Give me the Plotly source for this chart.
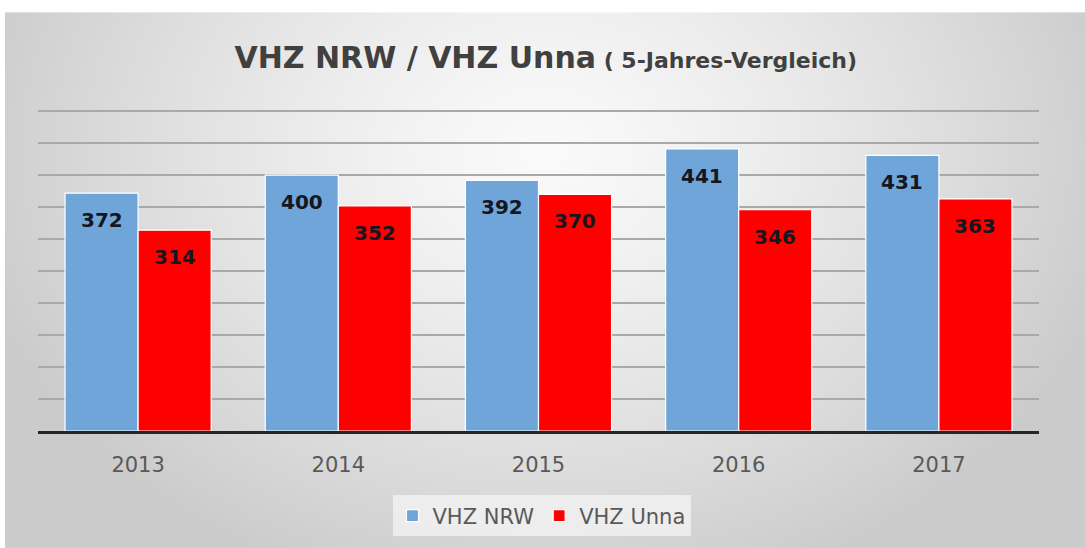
import base64
import struct
import zlib
import numpy as np
import plotly.graph_objects as go

years = ["2013", "2014", "2015", "2016", "2017"]
vhz_nrw = [372, 400, 392, 441, 431]
vhz_unna = [314, 352, 370, 346, 363]
series_names = ["VHZ NRW", "VHZ Unna"]
series_colors = ["#6fa5d9", "#ff0000"]

W, H = 1085, 548
FONT = "DejaVu Sans"


def png_data_uri(arr):
    h, w, _ = arr.shape
    raw = b"".join(b"\x00" + arr[i].tobytes() for i in range(h))

    def chunk(tag, data):
        c = struct.pack(">I", len(data)) + tag + data
        return c + struct.pack(">I", zlib.crc32(tag + data) & 0xFFFFFFFF)

    png = b"\x89PNG\r\n\x1a\n"
    png += chunk(b"IHDR", struct.pack(">IIBBBBB", w, h, 8, 2, 0, 0, 0))
    png += chunk(b"IDAT", zlib.compress(raw, 9))
    png += chunk(b"IEND", b"")
    return "data:image/png;base64," + base64.b64encode(png).decode()


# Decorative radial gray background
bw, bh = 270, 134
px = np.linspace(5, W, bw)
py = np.linspace(12, H, bh)
XX, YY = np.meshgrid(px, py)
d = np.sqrt(((XX - 545) / 600.0) ** 2 + ((YY - 150) / 470.0) ** 2)
t = np.clip(d, 0, 1) ** 1.3
g = (250 - t * (250 - 203)).astype(np.uint8)
bg = np.dstack([g, g, g])
bg_uri = png_data_uri(bg)

fig = go.Figure()
for name, vals, col in zip(series_names, [vhz_nrw, vhz_unna], series_colors):
    fig.add_trace(go.Bar(
        x=years, y=vals, name=name,
        marker=dict(color=col, line=dict(color="#ffffff", width=1.2)),
        hoverinfo="x+y"))

# Data labels inside the bars, near the top (x given as category index)
annotations = []
for vals, xs in [(vhz_nrw, -36.5), (vhz_unna, 36.5)]:
    for i, v in enumerate(vals):
        annotations.append(dict(
            x=i, y=v, xref="x", yref="y", xshift=xs, yshift=-27,
            text="<b>%d</b>" % v, showarrow=False, yanchor="middle",
            font=dict(family=FONT, size=20, color="#16161f")))

YMAX = 502
PH = 320 * YMAX / 500
fig.update_layout(
    width=W, height=H,
    margin=dict(l=38, r=W - 1039, t=431 - int(round(PH)), b=H - 431, pad=0),
    paper_bgcolor="#ffffff",
    plot_bgcolor="rgba(0,0,0,0)",
    barmode="group", bargap=0.27, bargroupgap=0,
    title=dict(
        text="<b>VHZ NRW / VHZ Unna</b><span style='font-size:22px'><b> ( 5-Jahres-Vergleich)</b></span>",
        font=dict(family=FONT, size=30, color="#404040"),
        x=0.503, xanchor="center", xref="container",
        y=1 - 57 / H, yanchor="middle", yref="container"),
    images=[dict(source=bg_uri, xref="paper", yref="paper",
                 x=(5 - 38) / (1039 - 38), y=1 + (431 - PH - 12) / PH,
                 sizex=1080 / (1039 - 38), sizey=536 / PH,
                 xanchor="left", yanchor="top", sizing="stretch", layer="below")],
    xaxis=dict(
        type="category", range=[-0.5, len(years) - 0.5],
        showline=True, linecolor="#262626", linewidth=3,
        ticks="outside", ticklen=13, tickcolor="rgba(0,0,0,0)",
        tickfont=dict(family=FONT, size=21, color="#595959"),
        showgrid=False, fixedrange=True),
    yaxis=dict(
        range=[0, YMAX], tick0=0, dtick=50, showticklabels=False,
        showgrid=True, gridcolor="#a9a9a9", gridwidth=1.5,
        zeroline=False, fixedrange=True),
    legend=dict(
        orientation="h", x=0.503, xanchor="center",
        y=-(516 - 431) / PH, yanchor="middle",
        bgcolor="rgba(244,244,244,0.75)", borderwidth=0,
        font=dict(family=FONT, size=21, color="#595959"),
        itemwidth=30, traceorder="normal"),
    annotations=annotations,
    showlegend=True,
)

fig.write_html("out.html", config={"displayModeBar": False},
               post_script="document.body.style.margin='0';")
